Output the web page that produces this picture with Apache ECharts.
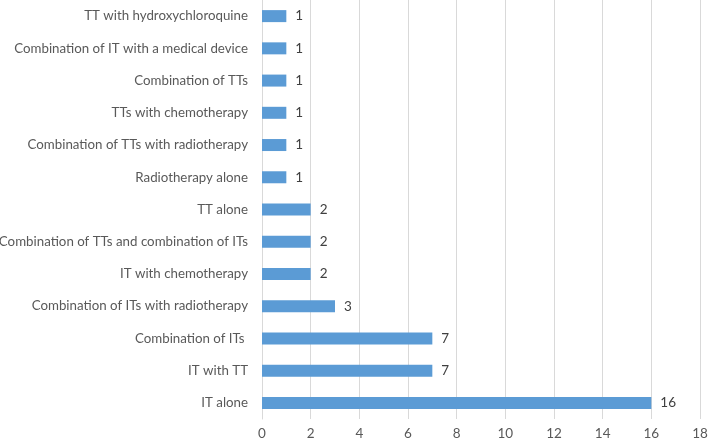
<!DOCTYPE html>
<html><head><meta charset="utf-8">
<script src="https://cdn.jsdelivr.net/npm/echarts@6/dist/echarts.min.js"></script>
<style>html,body{margin:0;padding:0;background:#fff}#c{width:709px;height:442px}</style>
</head><body><div id="c"></div>
<script>
var categories = ["IT alone","IT with TT","Combination of ITs ","Combination of ITs with radiotherapy","IT with chemotherapy","Combination of TTs and combination of ITs","TT alone","Radiotherapy alone","Combination of TTs with radiotherapy","TTs with chemotherapy","Combination of TTs","Combination of IT with a medical device","TT with hydroxychloroquine"];
var values = [16,7,7,3,2,2,2,1,1,1,1,1,1];
var xTicks = [0,2,4,6,8,10,12,14,16,18];
var chart = echarts.init(document.getElementById('c'), null, {renderer:'canvas'});
chart.setOption({
  animation:false,
  grid:{left:262,top:0,width:438,height:419,containLabel:false,outerBoundsMode:'none'},
  xAxis:{type:'value',min:0,max:18,interval:2,
    axisLine:{show:false},axisTick:{show:false},
    splitLine:{show:true,lineStyle:{color:'#d9d9d9',width:1}},
    axisLabel:{color:'#595959',fontFamily:'Lato',fontSize:13.5,margin:8}},
  yAxis:{type:'category',data:categories,
    axisLine:{show:true,lineStyle:{color:'#d9d9d9'}},axisTick:{show:false},
    axisLabel:{color:'#595959',fontFamily:'Lato',fontSize:13.3,margin:14}},
  series:[{type:'bar',data:values,barWidth:12,
    itemStyle:{color:'#5B9BD5'},
    label:{show:true,position:'right',distance:9,color:'#404040',fontFamily:'Lato',fontSize:13.5}}]
});
</script></body></html>
